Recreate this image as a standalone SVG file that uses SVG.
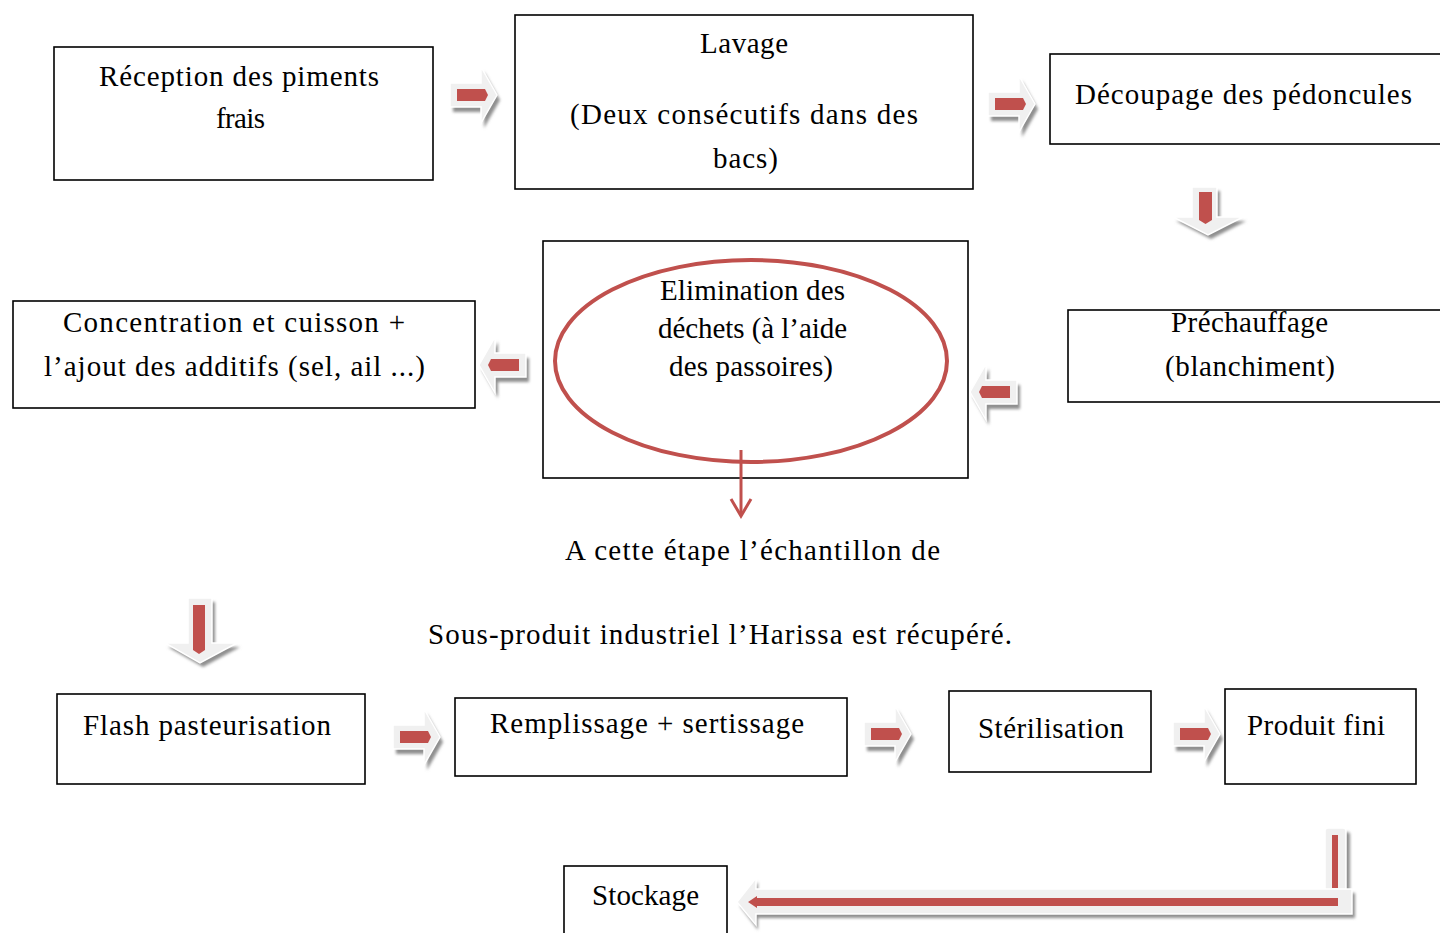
<svg xmlns="http://www.w3.org/2000/svg" xmlns:xlink="http://www.w3.org/1999/xlink" width="1440" height="933" viewBox="0 0 1440 933">
<style>
.box{fill:#fff;stroke:#000;stroke-width:1.6}
text{font-family:"Liberation Serif","Times New Roman",serif;font-size:29px;fill:#000}
.sh{fill:#8f8f8f}
.wa{fill:#f0f0f0;stroke:#fff;stroke-width:1.5}
.rd{fill:#c0504d}
</style>
<defs>
<path id="rs" d="M0,16 H31 V0 L47,28 L31,56 V40 H0 Z"/>
<path id="rr" d="M7,22 H35 L38,28 L35,34 H7 Z"/>
<filter id="blur" x="-20%" y="-20%" width="140%" height="140%"><feGaussianBlur stdDeviation="1.5"/></filter>
</defs>
<rect width="1440" height="933" fill="#fff"/>

<g id="n1"><rect class="box" x="54" y="47" width="379" height="133"/>
<text x="99" y="86" textLength="280" lengthAdjust="spacing">Réception des piments</text>
<text x="216" y="128" textLength="49" lengthAdjust="spacing">frais</text></g>

<g id="n2"><rect class="box" x="515" y="15" width="458" height="174"/>
<text x="700" y="53" textLength="88" lengthAdjust="spacing">Lavage</text>
<text x="570" y="124" textLength="348" lengthAdjust="spacing">(Deux consécutifs dans des</text>
<text x="713" y="168" textLength="65" lengthAdjust="spacing">bacs)</text></g>

<g id="n3"><rect class="box" x="1050" y="54" width="400" height="90"/>
<text x="1075" y="104" textLength="337" lengthAdjust="spacing">Découpage des pédoncules</text></g>

<g id="n4"><rect class="box" x="1068" y="310" width="382" height="92"/>
<text x="1171" y="332" textLength="157" lengthAdjust="spacing">Préchauffage</text>
<text x="1165" y="376" textLength="170" lengthAdjust="spacing">(blanchiment)</text></g>

<g id="n5"><rect class="box" x="543" y="241" width="425" height="237"/>
<ellipse cx="751" cy="361" rx="196" ry="101" fill="none" stroke="#c0504d" stroke-width="4"/>
<text x="660" y="300" textLength="185" lengthAdjust="spacing">Elimination des</text>
<text x="658" y="338" textLength="189" lengthAdjust="spacing">déchets (à l’aide</text>
<text x="669" y="376" textLength="164" lengthAdjust="spacing">des passoires)</text></g>

<g id="n6"><rect class="box" x="13" y="301" width="462" height="107"/>
<text x="63" y="332" textLength="342" lengthAdjust="spacing">Concentration et cuisson +</text>
<text x="44" y="376" textLength="381" lengthAdjust="spacing">l’ajout des additifs (sel, ail ...)</text></g>

<g id="note">
<text x="565" y="560" textLength="375" lengthAdjust="spacing">A cette étape l’échantillon de</text>
<text x="428" y="644" textLength="584" lengthAdjust="spacing">Sous-produit industriel l’Harissa est récupéré.</text></g>

<g id="n7"><rect class="box" x="57" y="694" width="308" height="90"/>
<text x="83" y="735" textLength="248" lengthAdjust="spacing">Flash pasteurisation</text></g>

<g id="n8"><rect class="box" x="455" y="698" width="392" height="78"/>
<text x="490" y="733" textLength="314" lengthAdjust="spacing">Remplissage + sertissage</text></g>

<g id="n9"><rect class="box" x="949" y="691" width="202" height="81"/>
<text x="978" y="738" textLength="146" lengthAdjust="spacing">Stérilisation</text></g>

<g id="n10"><rect class="box" x="1225" y="689" width="191" height="95"/>
<text x="1247" y="735" textLength="138" lengthAdjust="spacing">Produit fini</text></g>

<g id="n11"><rect class="box" x="564" y="866" width="163" height="80"/>
<text x="592" y="905" textLength="107" lengthAdjust="spacing">Stockage</text></g>

<g id="connectors">
  <g id="a1" transform="translate(450,67)"><use xlink:href="#rs" class="sh" x="3" y="5" filter="url(#blur)"/><use xlink:href="#rs" class="wa"/><use xlink:href="#rr" class="rd"/></g>
  <g id="a2" transform="translate(988,76)"><use xlink:href="#rs" class="sh" x="3" y="5" filter="url(#blur)"/><use xlink:href="#rs" class="wa"/><use xlink:href="#rr" class="rd"/></g>
  <g id="a3">
    <path class="sh" filter="url(#blur)" d="M1195,191 H1220 V221 H1246 L1211,239 L1176,221 H1195 Z"/>
    <path class="wa" d="M1192,187 H1217 V217 H1243 L1208,235 L1173,217 H1192 Z"/>
    <path class="rd" d="M1199,192 H1212 V220 L1205.5,224 L1199,220 Z"/>
  </g>
  <g id="a4" transform="translate(1017,364) scale(-1,1)"><use xlink:href="#rs" class="sh" x="-3" y="5" filter="url(#blur)"/><use xlink:href="#rs" class="wa"/><use xlink:href="#rr" class="rd"/></g>
  <g id="a5" transform="translate(526,337) scale(-1,1)"><use xlink:href="#rs" class="sh" x="-3" y="5" filter="url(#blur)"/><use xlink:href="#rs" class="wa"/><use xlink:href="#rr" class="rd"/></g>
  <g id="a6">
    <line x1="741" y1="450" x2="741" y2="515" stroke="#c0504d" stroke-width="3"/>
    <polyline points="731,499 741,516 751,499" fill="none" stroke="#c0504d" stroke-width="3"/>
  </g>
  <g id="a7">
    <path class="sh" filter="url(#blur)" d="M191,602 H215 V647 H240 L203,667 L168,647 H191 Z"/>
    <path class="wa" d="M188,598 H212 V643 H237 L200,663 L165,643 H188 Z"/>
    <path class="rd" d="M193,605 H205 V650 L199,654 L193,650 Z"/>
  </g>
  <g id="a8" transform="translate(393,709)"><use xlink:href="#rs" class="sh" x="3" y="5" filter="url(#blur)"/><use xlink:href="#rs" class="wa"/><use xlink:href="#rr" class="rd"/></g>
  <g id="a9" transform="translate(864,706)"><use xlink:href="#rs" class="sh" x="3" y="5" filter="url(#blur)"/><use xlink:href="#rs" class="wa"/><use xlink:href="#rr" class="rd"/></g>
  <g id="a10" transform="translate(1173,706)"><use xlink:href="#rs" class="sh" x="3" y="5" filter="url(#blur)"/><use xlink:href="#rs" class="wa"/><use xlink:href="#rr" class="rd"/></g>
  <g id="a11">
    <rect class="sh" filter="url(#blur)" x="1328" y="832" width="22" height="64" rx="3"/>
    <rect class="wa" x="1325" y="828" width="21" height="64" rx="3"/>
    <rect class="rd" x="1332" y="835" width="6" height="53"/>
    <path class="sh" filter="url(#blur)" d="M740,906 L758,882 V893 H1355 V918 H758 V930 Z"/>
    <path class="wa" d="M737,902 L756,878 V889 H1352 V914 H756 V925 Z"/>
    <path class="rd" d="M748,902 L757,896 V898 H1338 V906 H757 V908 Z"/>
  </g>
</g>
</svg>
